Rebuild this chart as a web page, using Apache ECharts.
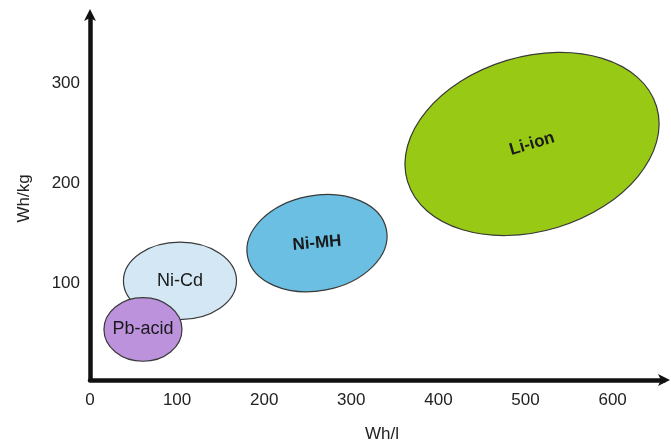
<!DOCTYPE html>
<html>
<head>
<meta charset="utf-8">
<script src="https://cdn.jsdelivr.net/npm/echarts@6/dist/echarts.min.js"></script>
<style>
html,body{margin:0;padding:0;background:#fff;}
#chart{width:671px;height:448px;}
</style>
</head>
<body>
<div id="chart"></div>
<script>
// Battery technologies (drawn back to front)
const technologies = ['Li-ion', 'Ni-MH', 'Ni-Cd', 'Pb-acid'];
// Centre of each region
const centreWhL  = [507.5, 260.6, 103.3, 60.8];
const centreWhKg = [239.4, 140.5, 102.9, 54.4];
// Semi-axes of each region (major along Wh/l, minor along Wh/kg)
const spreadWhL  = [149.3, 81.2, 64.9, 44.8];
const spreadWhKg = [87, 47.5, 38.6, 31.7];
// Tilt of each region, degrees
const tiltDeg      = [16.75, 10.8, 0, 0];
const labelTiltDeg = [16.5, 5, 0, 0];
// Axis ticks
const xTicks = [0, 100, 200, 300, 400, 500, 600];
const yTicks = [100, 200, 300];

const fills = ['#97C915', '#6ABFE2', '#D3E7F5', '#BC92DC'];
const bold = [true, true, false, false];

const data = technologies.map((t, i) => [centreWhL[i], centreWhKg[i], spreadWhL[i], spreadWhKg[i], tiltDeg[i], labelTiltDeg[i], i]);

const chart = echarts.init(document.getElementById('chart'), null, {renderer: 'canvas'});
const axisColor = '#111';
chart.setOption({
  animation: false,
  grid: {left: 90, right: 7, top: 17, bottom: 65, containLabel: false},
  xAxis: {
    type: 'value', min: 0, max: 659, interval: 100,
    name: 'Wh/l', nameLocation: 'middle', nameGap: 46,
    nameTextStyle: {fontSize: 17, color: '#222', fontFamily: 'Liberation Sans', padding: [0, 0, 0, 10]},
    axisLine: {show: true, onZero: false, symbol: ['none', 'arrow'], symbolSize: [9, 12], symbolOffset: [0, 6], lineStyle: {color: axisColor, width: 4.5}},
    axisTick: {show: false},
    splitLine: {show: false},
    axisLabel: {
      fontSize: 17, color: '#222', fontFamily: 'Liberation Sans', margin: 12,
      formatter: v => xTicks.includes(v) ? String(v) : ''
    }
  },
  yAxis: {
    type: 'value', min: 4, max: 366,
    name: 'Wh/kg', nameLocation: 'middle', nameGap: 57, nameRotate: 90,
    nameTextStyle: {fontSize: 17, color: '#222', fontFamily: 'Liberation Sans'},
    axisLine: {show: true, onZero: false, symbol: ['none', 'arrow'], symbolSize: [9, 12], symbolOffset: [0, 8], lineStyle: {color: axisColor, width: 4.5}},
    axisTick: {show: false},
    splitLine: {show: false},
    axisLabel: {
      fontSize: 17, color: '#222', fontFamily: 'Liberation Sans', margin: 10,
      customValues: yTicks,
      formatter: v => String(v)
    }
  },
  series: [{
    type: 'custom',
    coordinateSystem: 'cartesian2d',
    data: data,
    encode: {x: 0, y: 1},
    clip: false,
    renderItem: function (params, api) {
      const c = api.coord([api.value(0), api.value(1)]);
      const rx = api.size([api.value(2), 0])[0];
      const ry = api.size([0, api.value(3)])[1];
      const rot = api.value(4) * Math.PI / 180;
      const lrot = api.value(5) * Math.PI / 180;
      const i = api.value(6);
      return {
        type: 'group',
        children: [{
          type: 'ellipse',
          x: c[0], y: c[1], rotation: rot,
          shape: {cx: 0, cy: 0, rx: rx, ry: ry},
          style: {fill: fills[i], stroke: '#3a3a3a', lineWidth: 1.2}
        }, {
          type: 'text',
          x: c[0], y: c[1], rotation: lrot,
          style: {
            text: technologies[i],
            fontSize: bold[i] ? 17 : 18,
            fontWeight: bold[i] ? 'bold' : 'normal',
            fontFamily: 'Liberation Sans',
            fill: '#1a1a1a',
            align: 'center', verticalAlign: 'middle'
          }
        }]
      };
    }
  }]
});
</script>
</body>
</html>
